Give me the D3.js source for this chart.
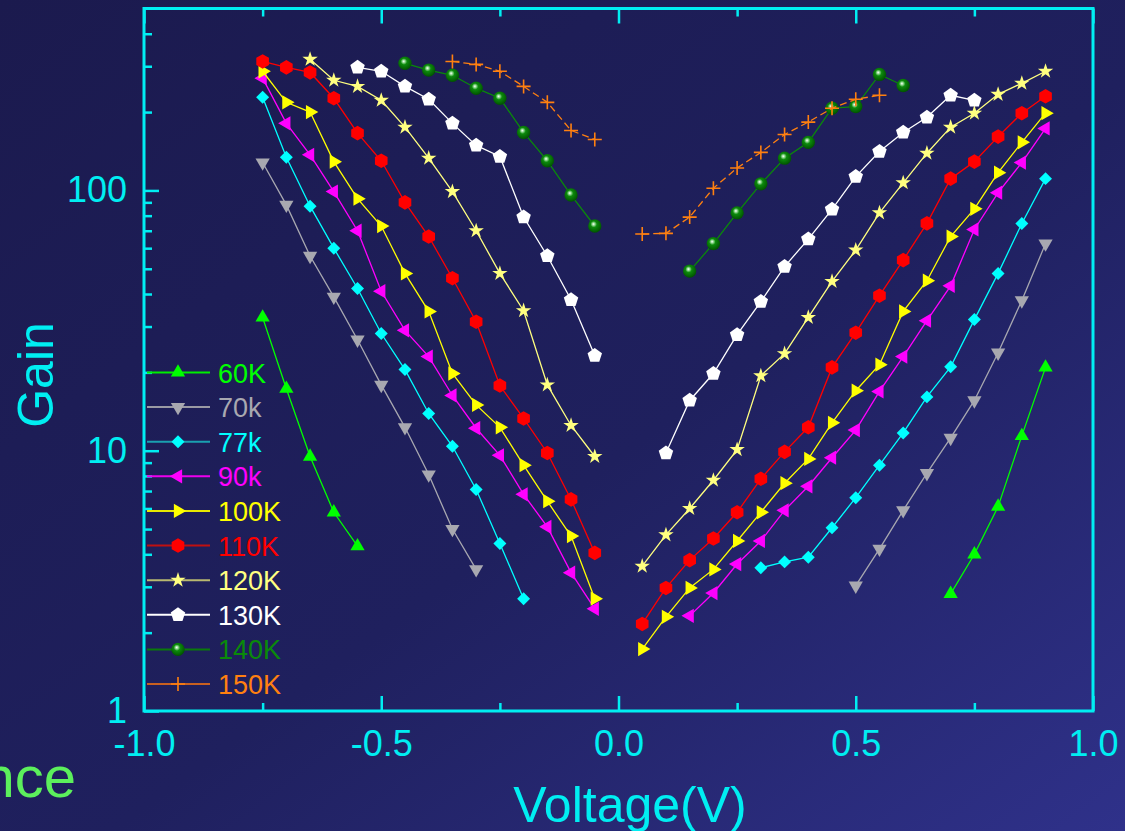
<!DOCTYPE html>
<html>
<head>
<meta charset="utf-8">
<script src="https://cdn.jsdelivr.net/npm/d3@7"></script>
<style>
  html, body { margin: 0; padding: 0; background: #1e1e5a; }
  svg { display: block; font-family: "Liberation Sans", Arial, sans-serif; }
</style>
</head>
<body>
<svg id="chart" width="1125" height="831"></svg>
<script>
// temperatures (legend order)
const temps = ['60K', '70k', '77k', '90k', '100K', '110K', '120K', '130K', '140K', '150K'];

// [voltage, gain]; null splits the negative and positive branches
const gain60K = [[-0.75, 32.5], [-0.70, 17.3], [-0.65, 9.5], [-0.60, 5.8], [-0.55, 4.3], null,
  [0.70, 2.82], [0.75, 4.0], [0.80, 6.1], [0.85, 11.4], [0.90, 20.9]];
const gain70k = [[-0.75, 128], [-0.70, 88], [-0.65, 56], [-0.60, 39], [-0.55, 26.7], [-0.50, 17.9],
  [-0.45, 12.3], [-0.40, 8.1], [-0.35, 5.0], [-0.30, 3.5], null,
  [0.50, 3.03], [0.55, 4.2], [0.60, 5.9], [0.65, 8.2], [0.70, 11.2], [0.75, 15.6], [0.80, 23.8],
  [0.85, 37.8], [0.90, 62.5]];
const gain77k = [[-0.75, 228], [-0.70, 134], [-0.65, 87], [-0.60, 60], [-0.55, 42], [-0.50, 28.2],
  [-0.45, 20.5], [-0.40, 13.9], [-0.35, 10.4], [-0.30, 7.1], [-0.25, 4.4], [-0.20, 2.7], null,
  [0.30, 3.55], [0.35, 3.74], [0.40, 3.9], [0.45, 5.06], [0.50, 6.6], [0.55, 8.8], [0.60, 11.7],
  [0.65, 16.1], [0.70, 21], [0.75, 31.9], [0.80, 48], [0.85, 74.6], [0.90, 111]];
const gain90k = [[-0.75, 270], [-0.70, 181], [-0.65, 137], [-0.60, 99], [-0.55, 70], [-0.50, 41],
  [-0.45, 29], [-0.40, 23], [-0.35, 16.3], [-0.30, 12.2], [-0.25, 9.6], [-0.20, 6.8], [-0.15, 5.1],
  [-0.10, 3.4], [-0.05, 2.47], null,
  [0.15, 2.32], [0.20, 2.84], [0.25, 3.67], [0.30, 4.5], [0.35, 5.9], [0.40, 7.3], [0.45, 9.4],
  [0.50, 12.0], [0.55, 16.9], [0.60, 23], [0.65, 31.6], [0.70, 43], [0.75, 70.8], [0.80, 98],
  [0.85, 128], [0.90, 173]];
const gain100K = [[-0.75, 287], [-0.70, 218], [-0.65, 200], [-0.60, 129], [-0.55, 93], [-0.50, 73],
  [-0.45, 48], [-0.40, 34.3], [-0.35, 19.8], [-0.30, 15], [-0.25, 12.3], [-0.20, 8.8], [-0.15, 6.4],
  [-0.10, 4.7], [-0.05, 2.7], null,
  [0.05, 1.73], [0.10, 2.3], [0.15, 2.97], [0.20, 3.5], [0.25, 4.5], [0.30, 5.8], [0.35, 7.5],
  [0.40, 9.3], [0.45, 12.8], [0.50, 17.0], [0.55, 21.4], [0.60, 34.3], [0.65, 45], [0.70, 66.5],
  [0.75, 85], [0.80, 117], [0.85, 153], [0.90, 198]];
const gain110K = [[-0.75, 313], [-0.70, 297], [-0.65, 284], [-0.60, 226], [-0.55, 166], [-0.50, 130],
  [-0.45, 90], [-0.40, 66.5], [-0.35, 46], [-0.30, 31.3], [-0.25, 17.8], [-0.20, 13.3], [-0.15, 9.8],
  [-0.10, 6.5], [-0.05, 4.05], null,
  [0.05, 2.16], [0.10, 2.97], [0.15, 3.8], [0.20, 4.6], [0.25, 5.8], [0.30, 7.8], [0.35, 9.9],
  [0.40, 12.3], [0.45, 20.9], [0.50, 28.4], [0.55, 39.4], [0.60, 54], [0.65, 74.7], [0.70, 111],
  [0.75, 129], [0.80, 161], [0.85, 198], [0.90, 230]];
const gain120K = [[-0.65, 319], [-0.60, 265], [-0.55, 251], [-0.50, 222], [-0.45, 175], [-0.40, 133],
  [-0.35, 99], [-0.30, 70], [-0.25, 48], [-0.20, 34.5], [-0.15, 17.9], [-0.10, 12.5], [-0.05, 9.5], null,
  [0.05, 3.6], [0.10, 4.75], [0.15, 6.0], [0.20, 7.7], [0.25, 10.1], [0.30, 19.4], [0.35, 23.6],
  [0.40, 32.5], [0.45, 44.7], [0.50, 59], [0.55, 82], [0.60, 107], [0.65, 139], [0.70, 175],
  [0.75, 198], [0.80, 234], [0.85, 258], [0.90, 287]];
const gain130K = [[-0.55, 297], [-0.50, 287], [-0.45, 251], [-0.40, 224], [-0.35, 181], [-0.30, 149],
  [-0.25, 135], [-0.20, 79], [-0.15, 56], [-0.10, 38], [-0.05, 23.2], null,
  [0.10, 9.8], [0.15, 15.6], [0.20, 19.8], [0.25, 27.9], [0.30, 37.4], [0.35, 51], [0.40, 65],
  [0.45, 84.5], [0.50, 113], [0.55, 141], [0.60, 167], [0.65, 191], [0.70, 232], [0.75, 222]];
const gain140K = [[-0.45, 308], [-0.40, 290], [-0.35, 277], [-0.30, 247], [-0.25, 226], [-0.20, 167],
  [-0.15, 130], [-0.10, 96], [-0.05, 73], null,
  [0.15, 49], [0.20, 62.5], [0.25, 82], [0.30, 106], [0.35, 133], [0.40, 153], [0.45, 207],
  [0.50, 210], [0.55, 279], [0.60, 253]];
const gain150K = [[-0.35, 313], [-0.30, 305], [-0.25, 287], [-0.20, 251], [-0.15, 218], [-0.10, 170],
  [-0.05, 157], null,
  [0.05, 68], [0.10, 68.4], [0.15, 79], [0.20, 102], [0.25, 122], [0.30, 140], [0.35, 164],
  [0.40, 183], [0.45, 207], [0.50, 224], [0.55, 232]];

const gainSeries = [gain60K, gain70k, gain77k, gain90k, gain100K, gain110K, gain120K, gain130K, gain140K, gain150K];

const xMajorTicks = [-1.0, -0.5, 0.0, 0.5, 1.0];
const xMinorTicks = [-0.75, -0.25, 0.25, 0.75];
const yMajorTicks = [1, 10, 100];
const yMinorTicks = [2, 3, 4, 5, 6, 7, 8, 9, 20, 30, 40, 50, 60, 70, 80, 90, 200, 300, 400];

// styles
const colors = ['#00ff00', '#a8a8b0', '#00ffff', '#ff00ff', '#ffff00', '#ff0000', '#ffff80', '#ffffff', '#0a8a0a', '#ff8010'];
const legendLine = ['#00ee00', '#9a9aa4', '#1aa0b0', '#ee00ee', '#e8e800', '#c01010', '#b8b870', '#ffffff', '#0a7a0a', '#c86020'];
const shapes = ['triUp', 'triDown', 'diamond', 'triLeft', 'triRight', 'hexagon', 'star', 'pentagon', 'sphere', 'plus'];

const W = 1125, H = 831;
const plot = { left: 144, right: 1093, top: 8.5, bottom: 711 };
const axisColor = '#00eef2';

const svg = d3.select('#chart');
const defs = svg.append('defs');

const bg = defs.append('linearGradient').attr('id', 'bg')
  .attr('x1', '0%').attr('y1', '0%').attr('x2', '100%').attr('y2', '100%');
bg.append('stop').attr('offset', '0%').attr('stop-color', '#1b1a4e');
bg.append('stop').attr('offset', '55%').attr('stop-color', '#1f205e');
bg.append('stop').attr('offset', '100%').attr('stop-color', '#2f318a');

const ball = defs.append('radialGradient').attr('id', 'ball')
  .attr('cx', '45%').attr('cy', '40%').attr('r', '60%').attr('fx', '40%').attr('fy', '35%');
ball.append('stop').attr('offset', '0%').attr('stop-color', '#ffffff');
ball.append('stop').attr('offset', '18%').attr('stop-color', '#8fd88f');
ball.append('stop').attr('offset', '40%').attr('stop-color', '#0c8a0c');
ball.append('stop').attr('offset', '100%').attr('stop-color', '#005200');

svg.append('rect').attr('width', W).attr('height', H).attr('fill', 'url(#bg)');

const x = d3.scaleLinear().domain([-1, 1]).range([plot.left, plot.right]);
const y = d3.scaleLog().domain([1, 500]).range([plot.bottom, plot.top]);

function polygon(n, r, start) {
  const pts = d3.range(n).map(i => {
    const a = start + i * 2 * Math.PI / n;
    return [r * Math.cos(a), r * Math.sin(a)];
  });
  return 'M' + pts.map(p => p[0].toFixed(2) + ',' + p[1].toFixed(2)).join('L') + 'Z';
}

const triPath = d3.symbol(d3.symbolTriangle, 88)();
const markerDef = {
  triUp: { d: triPath, rot: 0 },
  triDown: { d: triPath, rot: 180 },
  triLeft: { d: triPath, rot: -90 },
  triRight: { d: triPath, rot: 90 },
  diamond: { d: d3.symbol(d3.symbolSquare, 84)(), rot: 45 },
  hexagon: { d: polygon(6, 7.3, -Math.PI / 2), rot: 0 },
  star: { d: d3.symbol(d3.symbolStar, 74)(), rot: 0 },
  pentagon: { d: polygon(5, 7.6, -Math.PI / 2), rot: 0 },
  sphere: { d: d3.symbol(d3.symbolCircle, 140)(), rot: 0 },
  plus: { d: 'M-7,0H7M0,-7V7', rot: 0 }
};

function drawMarker(g, shape, color, cx, cy) {
  const m = markerDef[shape];
  const p = g.append('path').attr('d', m.d)
    .attr('transform', `translate(${cx},${cy}) rotate(${m.rot})`);
  if (shape === 'plus') {
    p.attr('fill', 'none').attr('stroke', color).attr('stroke-width', 1.6);
  } else if (shape === 'sphere') {
    p.attr('fill', 'url(#ball)');
  } else {
    p.attr('fill', color);
  }
}

// series
const line = d3.line().defined(d => d !== null).x(d => x(d[0])).y(d => y(d[1]));
const seriesG = svg.append('g');
gainSeries.forEach((pts, i) => {
  const g = seriesG.append('g');
  g.append('path').attr('d', line(pts))
    .attr('fill', 'none')
    .attr('stroke', colors[i])
    .attr('stroke-width', 1.3)
    .attr('stroke-dasharray', shapes[i] === 'plus' ? '7,4' : null);
  pts.filter(d => d !== null).forEach(d => drawMarker(g, shapes[i], colors[i], x(d[0]), y(d[1])));
});

// axes
function styleAxis(g, width) {
  g.select('.domain').remove();
  g.selectAll('.tick line').attr('stroke', axisColor).attr('stroke-width', width);
  g.selectAll('.tick text').attr('fill', axisColor).attr('font-size', 36)
    .attr('font-family', '"Liberation Sans", Arial, sans-serif');
}

const fmtX = d => d.toFixed(1);

svg.append('g').attr('transform', `translate(0,${plot.bottom})`)
  .call(d3.axisBottom(x).tickValues(xMajorTicks).tickSize(-15).tickSizeOuter(0).tickPadding(19)
    .tickFormat(fmtX))
  .call(g => styleAxis(g, 2.5));
svg.append('g').attr('transform', `translate(0,${plot.bottom})`)
  .call(d3.axisBottom(x).tickValues(xMinorTicks).tickSize(-8).tickSizeOuter(0).tickFormat(''))
  .call(g => styleAxis(g, 2.5));
svg.append('g').attr('transform', `translate(0,${plot.top})`)
  .call(d3.axisTop(x).tickValues(xMajorTicks).tickSize(-15).tickSizeOuter(0).tickFormat(''))
  .call(g => styleAxis(g, 2.5));
svg.append('g').attr('transform', `translate(0,${plot.top})`)
  .call(d3.axisTop(x).tickValues(xMinorTicks).tickSize(-8).tickSizeOuter(0).tickFormat(''))
  .call(g => styleAxis(g, 2.5));

svg.append('g').attr('transform', `translate(${plot.left},0)`)
  .call(d3.axisLeft(y).tickValues(yMajorTicks).tickSize(-15).tickSizeOuter(0).tickPadding(17)
    .tickFormat(d3.format('d')))
  .call(g => styleAxis(g, 2.5));
svg.append('g').attr('transform', `translate(${plot.left},0)`)
  .call(d3.axisLeft(y).tickValues(yMinorTicks).tickSize(-8).tickSizeOuter(0).tickFormat(''))
  .call(g => styleAxis(g, 2.5));

svg.append('rect')
  .attr('x', plot.left).attr('y', plot.top)
  .attr('width', plot.right - plot.left).attr('height', plot.bottom - plot.top)
  .attr('fill', 'none').attr('stroke', axisColor).attr('stroke-width', 3);

// axis titles
svg.append('text').attr('x', 630).attr('y', 822).attr('text-anchor', 'middle')
  .attr('fill', axisColor).attr('font-size', 50).text('Voltage(V)');
svg.append('text').attr('transform', 'translate(53,375) rotate(-90)').attr('text-anchor', 'middle')
  .attr('fill', axisColor).attr('font-size', 50).text('Gain');

// clipped fragment at the lower left
svg.append('text').attr('x', 76).attr('y', 797).attr('text-anchor', 'end')
  .attr('fill', '#5cf05c').attr('font-size', 58).text('nce');

// legend
const legendY = d3.scaleLinear().domain([0, temps.length - 1]).range([372.5, 684]);
const legend = svg.append('g');
temps.forEach((t, i) => {
  const ly = legendY(i);
  legend.append('line').attr('x1', 147).attr('x2', 210).attr('y1', ly).attr('y2', ly)
    .attr('stroke', legendLine[i]).attr('stroke-width', 2);
  drawMarker(legend, shapes[i], colors[i], 178, ly);
  legend.append('text').attr('x', 218).attr('y', ly + 10)
    .attr('fill', colors[i]).attr('font-size', 27).text(t);
});
</script>
</body>
</html>
